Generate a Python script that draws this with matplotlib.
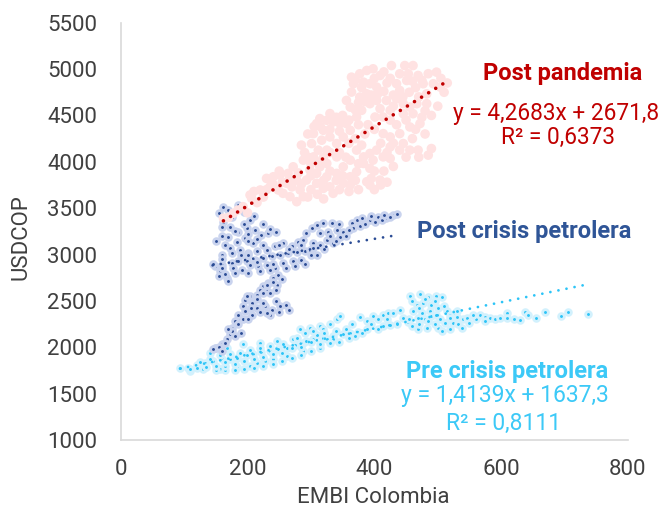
import matplotlib
matplotlib.use("Agg")
import matplotlib.pyplot as plt
import numpy as np

plt.rcParams["font.family"] = ["Roboto", "DejaVu Sans"]

# Pre crisis petrolera (EMBI, USDCOP)
pre_x = [93.5, 106.6, 119.8, 133, 146, 159, 172, 183, 199, 209, 222, 235, 248.5, 262, 275, 288, 304, 319.5, 335, 351,
         109, 130, 156.6, 183, 214.5, 240.7, 262, 288, 314,
         141, 167, 193, 220, 246, 272, 283, 298.5, 314, 330, 340.6, 346, 377, 388, 362, 375,
         293, 309, 325, 304, 319.5, 335, 277.5, 256, 235, 220, 204, 188, 172, 157, 141, 125, 204, 228,
         388, 398, 406, 414, 422, 430, 440, 414, 425, 435, 453.6,
         456, 472, 485, 498, 506, 467, 477, 490, 461, 475, 488, 469, 480, 459, 469, 482.6, 490, 498, 503.6,
         501, 506, 511, 514, 519, 527, 530, 524.5, 532, 540, 545.6, 538,
         561, 566.6, 574.5, 582, 590, 598, 609, 609, 638, 643, 669, 695, 706, 737,
         110, 120, 135, 150, 150, 165, 165, 165, 180, 180, 195, 195, 210, 210, 225, 225, 240, 240, 255, 255,
         270, 270, 285, 285, 300, 300, 315, 330, 345, 355, 365, 320, 340, 290, 360, 370, 380, 395, 405, 420,
         445, 455, 460, 480, 495, 470, 500, 485, 470, 495, 520, 520, 510, 530, 550, 555, 575, 620, 630, 655]
pre_y = [1781, 1781, 1806, 1827, 1852, 1870, 1877, 1888, 1913, 1924, 1948, 1959, 1977, 1995, 2020, 2049, 2085, 2103, 2120, 2138,
         1744, 1763, 1770, 1792, 1834, 1870, 1905, 1959, 1995,
         1942, 1995, 2031, 2049, 2067, 2092, 2192, 2210, 2228, 2246, 2300, 2335, 2328, 2192, 2157, 2163,
         2067, 2135, 2085, 2174, 2192, 2085, 2103, 2031, 2013, 1995, 1970, 1942, 1924, 1913, 1870, 1841, 1798, 1852,
         2281, 2335, 2300, 2353, 2371, 2371, 2407, 2228, 2238, 2253, 2271,
         2550, 2579, 2543, 2557, 2543, 2461, 2479, 2461, 2389, 2371, 2389, 2318, 2300, 2228, 2192, 2210, 2335, 2353, 2300,
         2210, 2174, 2264, 2389, 2353, 2371, 2389, 2264, 2246, 2300, 2318, 2210,
         2300, 2353, 2328, 2314, 2307, 2314, 2371, 2314, 2378, 2343, 2378, 2335, 2378, 2361,
         1765, 1780, 1790, 1760, 1800, 1755, 1800, 1840, 1760, 1820, 1770, 1850, 1780, 1870, 1800, 1900, 1820, 1930, 1850, 1940,
         1880, 1990, 1920, 2000, 1960, 2060, 2030, 2050, 2060, 2200, 2250, 2150, 2180, 2150, 2100, 2120, 2150, 2250, 2200, 2300,
         2320, 2300, 2500, 2520, 2500, 2420, 2420, 2280, 2250, 2250, 2200, 2320, 2450, 2330, 2260, 2350, 2280, 2310, 2290, 2320]

# Post crisis petrolera
post_x = [162, 172, 185.5, 199, 212, 222, 233, 170, 183, 196, 209, 172, 188, 201,
          162, 185.5, 204, 175, 165, 180, 200, 190, 160,
          149, 159, 175, 185.5, 199, 212, 225, 238, 251, 264, 277.6, 290.6, 156.6, 167, 170, 177.6, 191, 204, 217,
          230, 243, 256, 272, 285, 230, 243, 256, 270, 280, 288,
          293, 301, 309, 319.5, 333, 314, 327, 340.6, 351, 304, 314, 325, 335, 346, 298.5, 304,
          364, 372, 380, 367, 377, 393, 406, 419, 430, 401, 411.6,
          248.5, 240.7, 233, 225, 220, 230, 214.5, 204, 196, 206.6, 193, 214.5, 228, 238, 251, 235, 206.6, 196,
          188, 180, 175, 172, 167, 159, 149,
          230, 246, 235.5, 199, 230, 193, 175, 151,
          155, 170, 195, 210, 160, 195, 225, 150, 160, 200, 215, 225, 175, 215, 160, 200, 235, 245,
          165, 180, 200, 220, 240, 260, 275, 290, 300, 310, 265, 250, 285, 320, 330, 340, 355, 360, 345, 385,
          395, 415, 425, 435, 160, 145, 155, 235, 215,
          240, 255, 245, 225, 215, 225, 245, 260, 265, 250, 220, 205, 200, 185, 170, 180, 165, 155, 160, 145, 190, 185]
post_y = [3355, 3301, 3248, 3284, 3266, 3212, 3230, 3194, 3140, 3177, 3123, 3070, 3051, 3016,
          3516, 3535, 3374, 3409, 3100, 3250, 3150, 2990, 3000,
          2872, 2890, 2909, 2926, 2926, 2944, 2962, 2980, 2998, 3016, 3022, 3033, 2818, 2747, 2711, 2855, 2837, 2890, 2872,
          2890, 2855, 2909, 2926, 2944, 3051, 3087, 3123, 3087, 3140, 3159,
          3230, 3284, 3320, 3338, 3345, 3230, 3248, 3266, 3248, 3123, 3105, 3159, 3123, 3194, 3051, 3070,
          3338, 3374, 3392, 3284, 3309, 3374, 3409, 3392, 3427, 3355, 3374,
          2783, 2747, 2694, 2657, 2622, 2604, 2568, 2550, 2514, 2479, 2443, 2425, 2443, 2407, 2443, 2353, 2353, 2389,
          2300, 2281, 2210, 2138, 2085, 2031, 1995,
          2675, 2675, 2586, 2550, 2371, 2300, 2174, 1995,
          3450, 3480, 3460, 3420, 3300, 3330, 3330, 3150, 3200, 3220, 3170, 3100, 3020, 3040, 2950, 3000, 3280, 3240,
          2790, 2800, 2800, 2820, 2900, 2850, 2880, 2900, 2990, 3000, 3060, 3100, 3100, 3060, 3200, 3150, 3200, 3260, 3330, 3330,
          3420, 3430, 3400, 3440, 2860, 2900, 2770, 2830, 2920,
          2700, 2740, 2620, 2590, 2520, 2480, 2500, 2460, 2400, 2380, 2380, 2420, 2300, 2250, 2200, 2120, 2050, 2000, 1960, 1980, 2150, 2350]

# Post pandemia
pan_x = [162, 177.6, 193, 206.6, 220, 204, 230, 240.7, 251, 235.5, 248.5, 262, 264, 272, 267, 277.6, 288, 283,
         293, 298.5, 288, 304, 301, 304, 309, 314, 325, 335, 346, 319.5, 330, 317, 311.6, 325, 340.6, 351, 362, 356,
         325, 314, 340.6, 309, 325, 340.6, 351, 362, 372, 383, 393, 403.6, 414, 425, 398, 383, 393, 372, 362, 351,
         330, 319.5, 388, 409, 393, 362, 309, 277.6, 256,
         362, 356, 364, 367, 364, 377, 388, 398, 409, 383, 393, 403.6, 388, 377, 380, 372, 393, 403.6, 409, 401,
         414, 425, 419, 427, 440, 448, 461, 453.6, 451, 469, 440, 435, 435, 445.6, 456, 467, 482.6, 445.6, 461,
         456, 472, 440, 445.6, 456, 469, 440, 425, 414, 425, 490, 485, 498, 493, 482.6, 477, 504,
         170, 185, 200, 215, 225, 210, 230, 240, 255, 250, 265, 280, 270, 285, 300, 295, 310, 320, 335, 345,
         360, 375, 400, 410, 420, 300, 310, 320, 330, 290, 295, 305, 315, 330, 345, 350, 340, 330, 360, 370,
         375, 385, 395, 405, 415, 420, 425, 415, 400, 380, 370, 430, 445, 455, 465, 470, 480, 475, 490, 500,
         510, 515, 505, 485, 475, 460, 430, 425, 435, 450, 465, 480, 460, 450, 470, 430, 410, 400, 385, 370,
         380, 360, 390, 375, 345, 355, 375, 400, 415, 430, 340, 320, 330, 300, 350, 370, 395, 420, 285, 295]
pan_y = [3392, 3445, 3516, 3606, 3696, 3642, 3821, 3839, 3857, 3731, 3696, 3768, 3875, 3946, 3624, 3570, 3624, 3696,
         3803, 3911, 4018, 4053, 4197, 4304, 4412, 4466, 4448, 4430, 4412, 4340, 4268, 4233, 4126, 4126, 4197, 4268, 4340, 4412,
         3982, 3946, 4053, 3875, 3839, 3875, 3946, 4018, 4126, 4053, 4090, 4126, 4053, 4036, 4018, 3982, 3929, 3893, 3839, 3768,
         3731, 3713, 3785, 3803, 3749, 3749, 3768, 3803, 3660,
         4590, 4662, 4752, 4842, 4913, 4949, 4985, 5003, 4931, 4859, 4842, 4806, 4733, 4698, 4555, 4483, 4627, 4662, 4573, 4483,
         4483, 4555, 4662, 5038, 4949, 5038, 5038, 4949, 4877, 4931, 4770, 4842, 4680, 4627, 4590, 4627, 4627, 4519, 4519,
         4376, 4412, 4304, 4197, 4126, 4126, 4126, 4268, 4304, 4161, 4143, 4072, 4967, 4842, 4733, 4842, 4806,
         3400, 3480, 3450, 3560, 3620, 3680, 3700, 3760, 3780, 3900, 3800, 3880, 3730, 3760, 3700, 3620, 3650, 3600, 3660, 3700,
         3680, 3700, 3700, 3750, 3780, 3980, 4000, 4050, 4100, 4100, 4300, 4380, 4380, 4350, 4330, 4500, 4480, 4520, 4450, 4560,
         4640, 4650, 4720, 4730, 4760, 4850, 4900, 4970, 4900, 4800, 4880, 4720, 4700, 4750, 4800, 4700, 4550, 4480, 4500, 4600,
         4750, 4850, 4900, 4950, 4880, 4870, 4600, 4450, 4400, 4450, 4350, 4300, 4250, 4050, 4050, 4200, 4200, 4350, 4300, 4250,
         4180, 4200, 4400, 4400, 4100, 4050, 3980, 3900, 3900, 3950, 3800, 3800, 3900, 3850, 3850, 3800, 3820, 4100, 4180, 4050]

# trend lines (slope, intercept) as shown / estimated from the chart
pre_trend = (1.4139, 1637.3)
post_trend = (1.12, 2721.0)
pan_trend = (4.2683, 2671.8)

pre_core, pre_halo = "#2CC4F7", "#D2F1FD"
post_core, post_halo = "#2B4C95", "#C9D3EE"
pan_fill, pan_line = "#FFE2E2", "#C00000"
pre_text = "#3CC9F7"

fig = plt.figure(figsize=(6.69, 5.14), dpi=100)
ax = fig.add_axes([0.1804, 0.1440, 0.7583, 0.8118])

ax.scatter(pre_x, pre_y, s=17, c=pre_core, edgecolors=pre_halo, linewidths=2.0, zorder=2)
ax.scatter(post_x, post_y, s=17, c=post_core, edgecolors=post_halo, linewidths=2.0, zorder=3)
ax.scatter(pan_x, pan_y, s=48, c=pan_fill, edgecolors="none", zorder=4)


def trend(xs, coef, color, lw, gap):
    xx = np.array([min(xs), max(xs)])
    ax.plot(xx, coef[0] * xx + coef[1], color=color, lw=lw,
            linestyle=(0, (0.01, gap)), dash_capstyle="round", zorder=5)


trend(pre_x, pre_trend, pre_core, 2.0, 2.95)
trend(post_x, post_trend, post_core, 2.0, 2.95)
trend(pan_x, pan_trend, pan_line, 2.6, 2.3)

ax.set_xlim(0, 800)
ax.set_ylim(1000, 5500)
ax.set_xticks([0, 200, 400, 600, 800])
ax.set_yticks(range(1000, 5501, 500))
ax.tick_params(length=0, labelsize=16, labelcolor="#404040")
ax.tick_params(axis="x", pad=14)
ax.tick_params(axis="y", pad=17)
for side in ["top", "right"]:
    ax.spines[side].set_visible(False)
for side in ["left", "bottom"]:
    ax.spines[side].set_color("#D9D9D9")
    ax.spines[side].set_linewidth(1.2)

ax.set_xlabel("EMBI Colombia", fontsize=16, color="#404040", va="center")
ax.xaxis.set_label_coords(0.497, -0.137)
ax.set_ylabel("USDCOP", fontsize=16, color="#404040", va="center")
ax.yaxis.set_label_coords(-0.1965, 0.486)

txt = dict(ha="center", va="baseline", clip_on=False)
ax.text(697.5, 4877, "Post pandemia", color=pan_line, fontweight="bold", fontsize=17, **txt)
ax.text(687, 4448, "y = 4,2683x + 2671,8", color=pan_line, fontsize=16.3, **txt)
ax.text(689, 4197, "R² = 0,6373", color=pan_line, fontsize=16.3, **txt)
ax.text(636, 3177, "Post crisis petrolera", color="#2F5597", fontweight="bold", fontsize=17, **txt)
ax.text(608.7, 1665, "Pre crisis petrolera", color=pre_text, fontweight="bold", fontsize=17, **txt)
ax.text(606, 1405, "y = 1,4139x + 1637,3", color=pre_text, fontsize=16.5, **txt)
ax.text(604, 1113, "R² = 0,8111", color=pre_text, fontsize=16.5, **txt)

fig.savefig("out.png", dpi=100)
